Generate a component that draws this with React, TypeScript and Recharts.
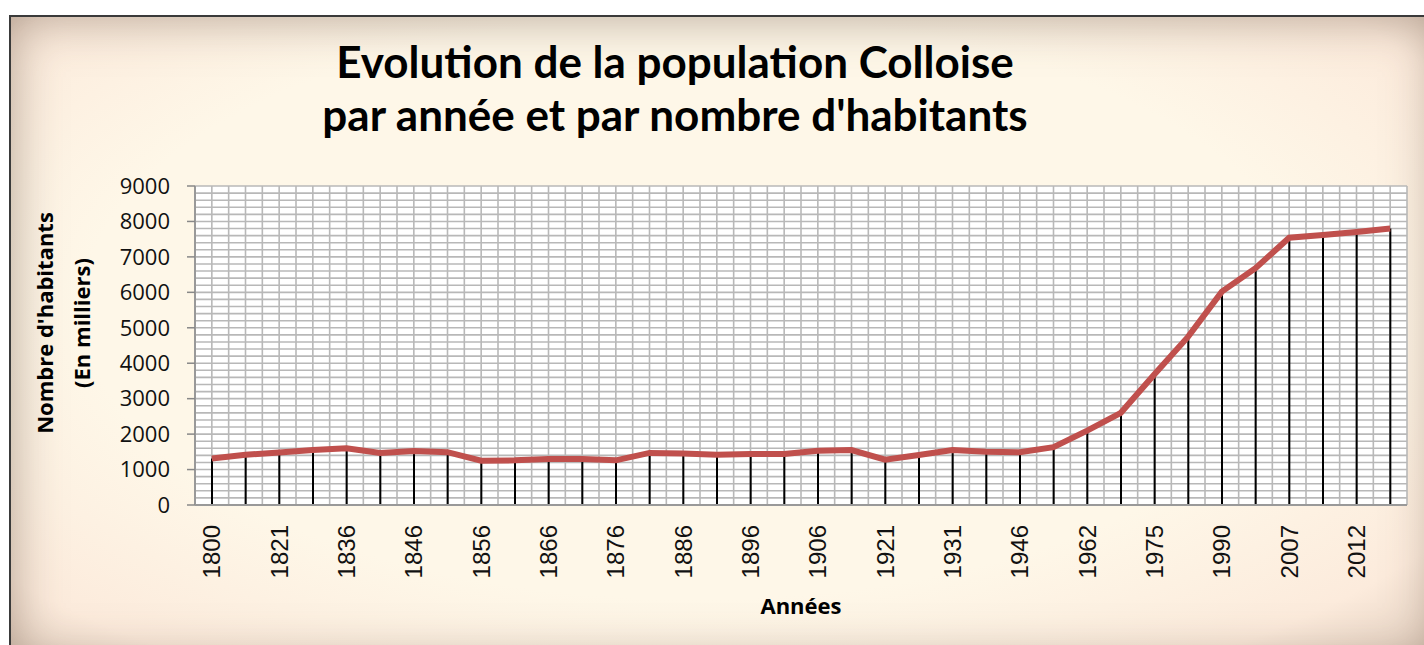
import { ComposedChart, Bar, Line, XAxis, YAxis, CartesianGrid } from 'recharts'

const years = [
  '1800', '1806', '1821', '1831', '1836', '1841', '1846', '1851', '1856', '1861',
  '1866', '1872', '1876', '1881', '1886', '1891', '1896', '1901', '1906', '1911',
  '1921', '1926', '1931', '1936', '1946', '1954', '1962', '1968', '1975', '1982',
  '1990', '1999', '2007', '2010', '2012', '2015',
]

const habitants = [
  1310, 1420, 1480, 1550, 1600, 1470, 1520, 1490, 1250, 1260,
  1300, 1300, 1260, 1470, 1450, 1420, 1440, 1440, 1530, 1550,
  1280, 1410, 1550, 1500, 1490, 1630, 2100, 2600, 3690, 4750,
  6020, 6680, 7540, 7620, 7700, 7800,
]

const titleLines = ['Evolution de la population Colloise', "par année et par nombre d'habitants"]
const yTicks = [0, 1000, 2000, 3000, 4000, 5000, 6000, 7000, 8000, 9000]
const Y_MAX = 9000
const Y_MINOR = 200

const data = years.map((year, i) => ({ year, value: habitants[i] }))

const XTick = ({ x, y, payload }: any) => (
  <text
    x={x}
    y={y}
    transform={`rotate(-90 ${x} ${y})`}
    textAnchor="end"
    dominantBaseline="central"
    fontSize={24}
    fontFamily="'Liberation Sans', Arial, sans-serif"
    fill="#111"
  >
    {payload.value}
  </text>
)

// grid every half category, and every 200 inhabitants
const verticalLines = ({ offset }: any) => {
  const n = years.length * 2
  const pts: number[] = []
  for (let i = 0; i <= n; i++) pts.push(offset.left + (offset.width * i) / n)
  return pts
}

const horizontalLines = ({ offset }: any) => {
  const n = Y_MAX / Y_MINOR
  const pts: number[] = []
  for (let i = 0; i <= n; i++) pts.push(offset.top + (offset.height * i) / n)
  return pts
}

export default function App() {
  return (
    <div
      style={{
        position: 'fixed',
        left: 0,
        top: 0,
        width: 1424,
        height: 645,
        overflow: 'hidden',
        background: '#fff',
      }}
    >
      <div
        style={{
          position: 'absolute',
          left: 9,
          top: 15,
          width: 1430,
          height: 650,
          border: '2px solid #3a3a3a',
          boxSizing: 'border-box',
          background:
            'radial-gradient(ellipse 78% 82% at 48% 45%, #fef7e8 55%, #fcebdc 80%, #d8c4b4 100%)',
          boxShadow: 'inset 0 0 50px rgba(110, 85, 70, 0.5)',
        }}
      />
      {titleLines.map((t, i) => (
        <div
          key={i}
          style={{
            position: 'absolute',
            left: 0,
            width: 1350,
            top: 35 + i * 53,
            textAlign: 'center',
            fontFamily: 'Lato, sans-serif',
            fontWeight: 700,
            fontSize: 44,
            lineHeight: '53px',
            color: '#000',
            whiteSpace: 'nowrap',
          }}
        >
          {t}
        </div>
      ))}
      <div
        style={{
          position: 'absolute',
          left: 63,
          top: 323,
          transform: 'translate(-50%, -50%) rotate(-90deg)',
          textAlign: 'center',
          whiteSpace: 'nowrap',
          fontFamily: "'Open Sans', sans-serif",
          fontWeight: 700,
          fontSize: 22,
          lineHeight: '37px',
          color: '#000',
        }}
      >
        <div>Nombre d'habitants</div>
        <div>(En milliers)</div>
      </div>
      <div
        style={{
          position: 'absolute',
          left: 801,
          top: 605,
          transform: 'translate(-50%, -50%)',
          fontFamily: "'Open Sans', sans-serif",
          fontWeight: 700,
          fontSize: 22,
          color: '#000',
        }}
      >
        Années
      </div>
      <div style={{ position: 'absolute', left: 0, top: 0 }}>
        <ComposedChart
          width={1424}
          height={645}
          data={data}
          barCategoryGap={0}
          margin={{ top: 186, right: 17, bottom: 50, left: 125 }}
        >
          <CartesianGrid
            fill="#fff"
            stroke="#b8b8b8"
            strokeWidth={1.6}
            verticalCoordinatesGenerator={verticalLines}
            horizontalCoordinatesGenerator={horizontalLines}
          />
          <XAxis
            dataKey="year"
            interval={1}
            height={90}
            tickLine={false}
            tickMargin={14}
            tick={<XTick />}
            axisLine={{ stroke: '#999', strokeWidth: 2 }}
          />
          <YAxis
            width={70}
            domain={[0, Y_MAX]}
            ticks={yTicks}
            interval={0}
            tickSize={8}
            tickMargin={17}
            tickLine={{ stroke: '#888', strokeWidth: 1.5 }}
            axisLine={{ stroke: '#999', strokeWidth: 2 }}
            tick={{ fontSize: 22, fill: '#111', fontFamily: "'Open Sans', sans-serif" }}
          />
          <Bar dataKey="value" barSize={2} fill="#000" isAnimationActive={false} />
          <Line
            type="linear"
            dataKey="value"
            stroke="#c0504d"
            strokeWidth={6}
            dot={false}
            activeDot={false}
            isAnimationActive={false}
          />
        </ComposedChart>
      </div>
    </div>
  )
}
